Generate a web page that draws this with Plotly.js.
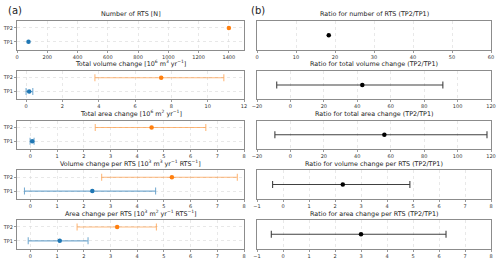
<!DOCTYPE html>
<html>
<head>
<meta charset="utf-8">
<script src="https://cdn.plot.ly/plotly-3.0.1.min.js"></script>
<style>html,body{margin:0;padding:0;background:#fff}#chart{width:500px;height:259px}</style>
</head>
<body>
<div id="chart"></div>
<script>
// ---- data ----
const leftTitles = [
  "Number of RTS [N]",
  "Total volume change [10<sup>6</sup> m<sup>3</sup> yr<sup>−1</sup>]",
  "Total area change [10<sup>6</sup> m<sup>2</sup> yr<sup>−1</sup>]",
  "Volume change per RTS [10<sup>3</sup> m<sup>3</sup> yr<sup>−1</sup> RTS<sup>−1</sup>]",
  "Area change per RTS [10<sup>3</sup> m<sup>2</sup> yr<sup>−1</sup> RTS<sup>−1</sup>]"
];
const rightTitles = [
  "Ratio for number of RTS (TP2/TP1)",
  "Ratio for total volume change (TP2/TP1)",
  "Ratio for total area change (TP2/TP1)",
  "Ratio for volume change per RTS (TP2/TP1)",
  "Ratio for area change per RTS (TP2/TP1)"
];
const periods = ["TP1", "TP2"];
const tp1Mean = [76, 0.17, 0.07, 2.32, 1.10];
const tp1Low  = [null, 0.00, -0.01, -0.22, -0.08];
const tp1High = [null, 0.37, 0.14, 4.69, 2.16];
const tp2Mean = [1400, 7.44, 4.54, 5.30, 3.25];
const tp2Low  = [null, 3.79, 2.43, 2.67, 1.75];
const tp2High = [null, 10.89, 6.57, 7.75, 4.72];
const ratioMean = [18.4, 43.0, 56.2, 2.30, 3.00];
const ratioLow  = [null, -8.2, -9.3, -0.40, -0.45];
const ratioHigh = [null, 91.2, 117.6, 4.88, 6.27];
const leftRanges  = [[0, 1500], [-0.5, 12], [-0.5, 8], [-0.5, 8], [-0.5, 8]];
const leftDticks  = [200, 2, 1, 1, 1];
const rightRanges = [[0, 60], [-20, 120], [-20, 120], [-1, 8], [-1, 8]];
const rightDticks = [10, 20, 20, 1, 1];

// ---- layout geometry ----
const W = 500, H = 259;
const leftDom = [17 / W, 244 / W];
const rightDom = [257 / W, 491 / W];
const boxTops = [21, 70.75, 120.5, 170.25, 220];
const boxH = 28.5;
const FONT = "DejaVu Sans, sans-serif";
const spine = "#8c8c8c";
const gridc = "#d9d9d9";
const TICKSIZE = 5;
const TITLESIZE = 6.4;

function errObj(mean, low, high, color) {
  if (low === null) return {visible: false};
  return {type: "data", symmetric: false, array: [high - mean], arrayminus: [mean - low],
          color: color, thickness: 1.1, width: 3.5, visible: true};
}

const traces = [];
const layout = {
  width: W, height: H, margin: {l: 0, r: 0, t: 0, b: 0},
  paper_bgcolor: "#fff", plot_bgcolor: "#fff", showlegend: false,
  font: {family: FONT, size: TICKSIZE, color: "#333"},
  annotations: [
    {text: "(a)", x: 15 / W, y: 1 - 10 / H, xref: "paper", yref: "paper", xanchor: "center", yanchor: "middle",
     showarrow: false, font: {family: FONT, size: 10, color: "#222"}},
    {text: "(b)", x: 258 / W, y: 1 - 10 / H, xref: "paper", yref: "paper", xanchor: "center", yanchor: "middle",
     showarrow: false, font: {family: FONT, size: 10, color: "#222"}}
  ]
};

function axisCommon(range, dtick) {
  return {range: range, dtick: dtick, tick0: 0, showgrid: true, gridcolor: gridc, griddash: "dot", gridwidth: 0.6,
          zeroline: false, showline: true, linecolor: spine, linewidth: 1, mirror: true,
          ticks: "outside", ticklen: 2, tickwidth: 0.6, tickcolor: "#555",
          tickfont: {family: FONT, size: TICKSIZE, color: "#333"}, fixedrange: true};
}

for (let i = 0; i < 5; i++) {
  const top = boxTops[i], bot = top + boxH;
  const ydom = [(H - bot) / H, (H - top) / H];
  const li = 2 * i + 1, ri = 2 * i + 2;
  const lx = "x" + (li === 1 ? "" : li), ly = "y" + (li === 1 ? "" : li);
  const rx = "x" + ri, ry = "y" + ri;
  traces.push({type: "scatter", mode: "markers", x: [tp1Mean[i]], y: [0], xaxis: lx, yaxis: ly,
    marker: {color: "#1f77b4", size: 4.5}, error_x: errObj(tp1Mean[i], tp1Low[i], tp1High[i], "rgba(31,119,180,0.6)"),
    hoverinfo: "skip"});
  traces.push({type: "scatter", mode: "markers", x: [tp2Mean[i]], y: [1], xaxis: lx, yaxis: ly,
    marker: {color: "#ff7f0e", size: 4.5}, error_x: errObj(tp2Mean[i], tp2Low[i], tp2High[i], "rgba(255,127,14,0.55)"),
    hoverinfo: "skip"});
  traces.push({type: "scatter", mode: "markers", x: [ratioMean[i]], y: [0], xaxis: rx, yaxis: ry,
    marker: {color: "#000", size: 4.5}, error_x: errObj(ratioMean[i], ratioLow[i], ratioHigh[i], "rgba(0,0,0,0.75)"),
    hoverinfo: "skip"});

  const lxa = axisCommon(leftRanges[i], leftDticks[i]);
  lxa.domain = leftDom; lxa.anchor = ly;
  const lya = {domain: ydom, anchor: lx, range: [-0.55, 1.5], tickmode: "array", tickvals: [0, 1], ticktext: periods,
    showgrid: true, gridcolor: gridc, griddash: "dot", gridwidth: 0.6, zeroline: false,
    showline: true, linecolor: spine, linewidth: 1, mirror: true, ticks: "outside", ticklen: 2, tickwidth: 0.6, tickcolor: "#555",
    tickfont: {family: FONT, size: TICKSIZE, color: "#333"}, fixedrange: true};
  const rxa = axisCommon(rightRanges[i], rightDticks[i]);
  rxa.domain = rightDom; rxa.anchor = ry;
  const rya = {domain: ydom, anchor: rx, range: [-1, 1], showticklabels: false, ticks: "", showgrid: false, zeroline: false,
    showline: true, linecolor: spine, linewidth: 1, mirror: true, fixedrange: true};
  layout["xaxis" + (li === 1 ? "" : li)] = lxa;
  layout["yaxis" + (li === 1 ? "" : li)] = lya;
  layout["xaxis" + ri] = rxa;
  layout["yaxis" + ri] = rya;

  layout.annotations.push({text: leftTitles[i], xref: "paper", yref: "paper", x: (leftDom[0] + leftDom[1]) / 2,
    y: ydom[1], xanchor: "center", yanchor: "bottom", yshift: 0.5, showarrow: false,
    font: {family: FONT, size: TITLESIZE, color: "#222"}});
  layout.annotations.push({text: rightTitles[i], xref: "paper", yref: "paper", x: (rightDom[0] + rightDom[1]) / 2,
    y: ydom[1], xanchor: "center", yanchor: "bottom", yshift: 0.5, showarrow: false,
    font: {family: FONT, size: TITLESIZE, color: "#222"}});
}

Plotly.newPlot("chart", traces, layout, {displayModeBar: false, staticPlot: true});
</script>
</body>
</html>
